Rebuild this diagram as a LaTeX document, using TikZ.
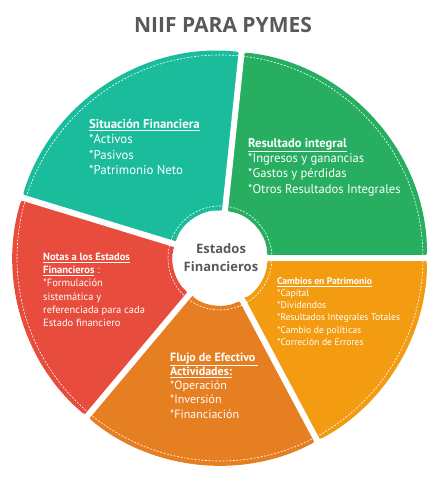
\documentclass[tikz,border=0pt]{standalone}
\usepackage{fontspec}
\setmainfont{PT Sans}
\newfontfamily\headfont{Open Sans}

\definecolor{tealpiece}{HTML}{1ABC9C}
\definecolor{greenpiece}{HTML}{27AE60}
\definecolor{yellowpiece}{HTML}{F39C12}
\definecolor{orangepiece}{HTML}{E67E22}
\definecolor{redpiece}{HTML}{E74C3C}
\definecolor{titlegray}{HTML}{58595B}

\tikzset{
  gapline/.style={white, line width=6pt},
  seam/.style={white, line width=0.6pt, dash pattern=on 2pt off 1.5pt},
  piecetext/.style={text=white, align=left, anchor=west, inner sep=0pt}
}

\begin{document}
\begin{tikzpicture}[x=1pt, y=1pt]
  \useasboundingbox (-220,-222) rectangle (218,258);
  % pieces of the wheel
  \foreach \a/\b/\c in {84/163/tealpiece, 0/84/greenpiece, -62/0/yellowpiece,
                        -130/-62/orangepiece, -197/-130/redpiece}
    \fill[\c, rounded corners=6pt] (\a:47) -- (\a:207)
      arc[start angle=\a, end angle=\b, radius=207] -- (\b:47)
      arc[start angle=\b, end angle=\a, radius=47] -- cycle;
  \draw[seam] (0,0) circle[radius=203];
  \draw[seam] (0,0) circle[radius=52];
  \foreach \a in {84,163,0,-62,-130}
    \draw[gapline] (\a:40) -- (\a:212);

  \node[font=\headfont\bfseries\fontsize{21}{25}\selectfont, text=titlegray] (titulo) at (3,233) {NIIF PARA PYMES};
  \node[font=\headfont\bfseries\fontsize{13}{18}\selectfont, text=titlegray, align=center] (centro) at (1,0) {Estados\\Financieros};

  \node[piecetext, font=\fontsize{12.8}{15.3}\selectfont] (situacion) at (-131,111)
    {\textbf{\underline{Situación Financiera}}\\*Activos\\*Pasivos\\*Patrimonio Neto};
  \node[piecetext, font=\fontsize{12.6}{15.3}\selectfont] (resultado) at (28,91)
    {\textbf{\underline{Resultado integral}}\\*Ingresos y ganancias\\*Gastos y pérdidas\\*Otros Resultados Integrales};
  \node[piecetext, font=\fontsize{10.5}{13.3}\selectfont] (notas) at (-177,-32)
    {\textbf{\underline{Notas a los Estados}}\\\textbf{\underline{Financieros}} :\\*Formulación\\sistemática y\\referenciada para cada\\Estado financiero};
  \node[piecetext, font=\fontsize{9.6}{12.2}\selectfont] (cambios) at (57,-53.5)
    {\textbf{\underline{Cambios en Patrimonio}}\\*Capital\\*Dividendos\\*Resultados Integrales Totales\\*Cambio de políticas\\*Correción de Errores};
  \node[piecetext, font=\fontsize{12}{14.3}\selectfont] (flujo) at (-50,-127.5)
    {\textbf{\underline{Flujo de Efectivo }}\\\textbf{\underline{Actividades:}}\\*Operación\\*Inversión\\*Financiación};
\end{tikzpicture}
\end{document}
